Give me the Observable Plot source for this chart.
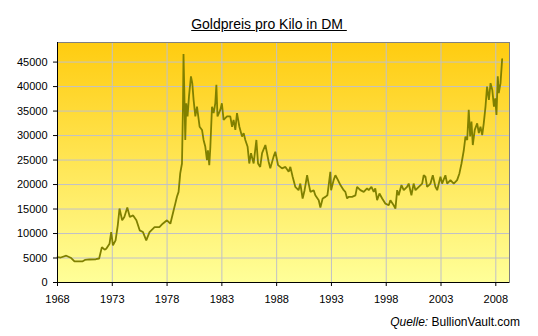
<!DOCTYPE html>
<html>
<head>
<meta charset="utf-8">
<script src="https://cdn.jsdelivr.net/npm/d3@7"></script>
<script src="https://cdn.jsdelivr.net/npm/@observablehq/plot@0.6"></script>
<style>
  html, body { margin: 0; padding: 0; background: #fff; }
  body { width: 538px; height: 336px; overflow: hidden; font-family: "Liberation Sans", Arial, sans-serif; }
  #title { height: 36px; box-sizing: border-box; padding-top: 17px; text-align: center; font-size: 14px; line-height: 14px; color: #000; }
  #title span { text-decoration: underline; white-space: pre; }
  #caption { margin-top: 10px; text-align: right; padding-right: 18px; font-size: 12px; line-height: 12px; color: #000; }
</style>
</head>
<body>
<div id="title"><span>Goldpreis pro Kilo in DM </span></div>
<div id="chart"></div>
<div id="caption"><i>Quelle:</i> BullionVault.com</div>
<script>
const years = [1968.0,1968.3,1968.8,1969.25,1969.55,1970.26,1970.5,1970.9,1971.5,1971.8,
1972.05,1972.3,1972.45,1972.75,1972.9,1973.06,1973.3,1973.5,1973.66,1973.9,
1974.1,1974.37,1974.6,1974.9,1975.2,1975.5,1975.8,1976.1,1976.4,1976.86,
1977.3,1977.6,1977.99,1978.3,1978.6,1978.75,1978.9,1979.05,1979.2,1979.36,
1979.45,1979.5,1979.57,1979.66,1979.75,1979.87,1980.0,1980.18,1980.3,1980.42,
1980.58,1980.73,1980.97,1981.19,1981.33,1981.49,1981.64,1981.73,1981.85,1981.95,
1982.1,1982.25,1982.4,1982.5,1982.6,1982.86,1983.0,1983.16,1983.47,1983.77,
1983.93,1984.07,1984.23,1984.38,1984.6,1984.84,1984.99,1985.14,1985.35,1985.5,
1985.66,1985.9,1986.15,1986.3,1986.5,1986.67,1986.97,1987.12,1987.27,1987.42,
1987.72,1987.88,1988.13,1988.49,1988.8,1989.1,1989.25,1989.46,1989.7,1990.0,
1990.16,1990.37,1990.55,1990.78,1990.92,1991.08,1991.38,1991.53,1991.84,1991.99,
1992.2,1992.45,1992.63,1992.75,1992.9,1992.97,1993.2,1993.36,1993.6,1993.82,
1994.12,1994.27,1994.43,1994.57,1994.88,1995.19,1995.34,1995.64,1995.95,1996.25,
1996.4,1996.65,1996.86,1997.0,1997.17,1997.38,1997.63,1997.93,1998.23,1998.38,
1998.68,1998.84,1999.0,1999.14,1999.39,1999.6,1999.9,2000.05,2000.3,2000.5,
2000.67,2000.97,2001.28,2001.42,2001.58,2001.73,2002.04,2002.25,2002.49,2002.65,
2002.95,2003.1,2003.4,2003.56,2003.86,2004.16,2004.47,2004.68,2004.87,2005.08,
2005.23,2005.39,2005.53,2005.66,2005.78,2005.9,2006.08,2006.3,2006.45,2006.6,
2006.76,2006.9,2007.06,2007.2,2007.37,2007.52,2007.68,2007.83,2007.95,2008.06,
2008.18,2008.27,2008.43,2008.58];
const prices = [5180,5100,5470,5000,4300,4300,4600,4700,4750,4900,
7230,6700,6900,7930,10300,7580,8600,11680,15100,12700,
13380,15300,13380,13700,12700,10650,10300,8600,10300,11300,
11300,12000,12700,12000,14750,16100,17500,18500,22270,24300,
35900,46650,39300,29100,36600,33900,38000,42100,40700,37300,
33900,35900,31800,31150,29100,27700,25000,27000,23970,27700,
35900,34600,36600,40350,33900,35250,36600,33200,33900,33900,
31800,33200,31150,34600,31800,29800,30500,29100,27700,24300,
26400,24300,29100,24300,23600,26400,28070,26400,24650,23300,
25700,26700,23970,23300,23600,22600,23600,21580,19530,18850,
20200,17150,18850,21900,20200,18500,18850,17800,16800,15300,
17150,17480,17800,19900,22600,18850,20900,21900,20900,19900,
18850,18500,17150,17500,17480,17800,19530,18850,18500,19200,
18850,19530,18500,19200,16800,18170,17150,16100,15780,16800,
15780,15100,18850,17800,19900,18850,19530,20200,17800,20200,
18850,19530,20200,21900,21600,19530,20200,21900,19530,18850,
21600,20200,21900,20200,20900,20200,20900,22270,24300,27000,
29800,29100,35250,29800,32850,28070,31150,32500,30500,31800,
30100,32500,35900,40000,37300,40700,39300,35900,37600,34200,
42100,38650,40700,45600];
const xTicks = [1968,1973,1978,1983,1988,1993,1998,2003,2008];
const yTicks = [0,5000,10000,15000,20000,25000,30000,35000,40000,45000];

const gradient = () => {
  const ns = "http://www.w3.org/2000/svg";
  const defs = document.createElementNS(ns, "defs");
  defs.innerHTML = '<linearGradient id="goldbg" x1="0" y1="0" x2="0" y2="1">' +
    '<stop offset="0" stop-color="#FFCC10"/><stop offset="1" stop-color="#FFFF99"/></linearGradient>';
  return defs;
};

const chart = Plot.plot({
  width: 538,
  height: 270,
  marginTop: 6,
  marginBottom: 24,
  marginLeft: 57,
  marginRight: 29,
  style: { fontFamily: '"Liberation Sans", Arial, sans-serif', fontSize: "11px", color: "#000", background: "transparent", overflow: "visible" },
  x: { domain: [1968, 2009.25] },
  y: { domain: [0, 49000] },
  marks: [
    gradient,
    Plot.frame({ fill: "url(#goldbg)", stroke: null }),
    Plot.gridX(xTicks, { stroke: "#c0c0c8", strokeOpacity: 1 }),
    Plot.gridY(yTicks, { stroke: "#c0c0c8", strokeOpacity: 1 }),
    Plot.frame({ stroke: "#808080" }),
    Plot.line(prices, { x: years, y: prices, stroke: "#808000", strokeWidth: 1.8, strokeLinejoin: "miter" }),
    Plot.ruleX([1968], { stroke: "#000" }),
    Plot.ruleY([0], { stroke: "#000" }),
    Plot.axisX(xTicks, { tickFormat: d => String(d), tickSize: 4, tickPadding: 9, label: null, stroke: "#000" }),
    Plot.axisY(yTicks, { tickFormat: d => String(d), tickSize: 4, tickPadding: 6, label: null, stroke: "#000" })
  ]
});
document.getElementById("chart").appendChild(chart);
</script>
</body>
</html>
